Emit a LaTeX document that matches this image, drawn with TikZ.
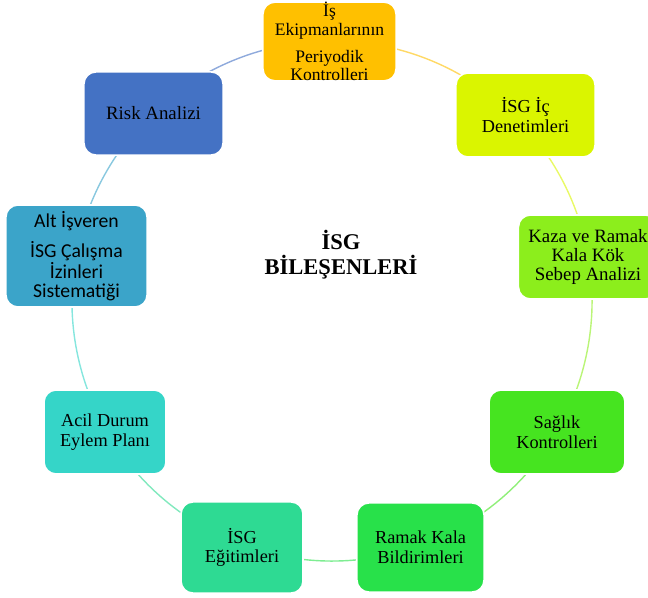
\documentclass[tikz,border=0pt]{standalone}
\usepackage{fontspec}
\setmainfont{Liberation Serif}
\newfontfamily\calibrifont{Carlito}
\usepackage{tikz}
\usetikzlibrary{calc, backgrounds}

\definecolor{cPeriyodik}{HTML}{FFC000}
\definecolor{cDenetim}{HTML}{DAF500}
\definecolor{cKaza}{HTML}{8CEE1C}
\definecolor{cSaglik}{HTML}{46E420}
\definecolor{cRamak}{HTML}{28E14A}
\definecolor{cEgitim}{HTML}{2EDA93}
\definecolor{cAcil}{HTML}{35D5C8}
\definecolor{cAlt}{HTML}{3BA4C9}
\definecolor{cRisk}{HTML}{4472C4}

\begin{document}
\begin{tikzpicture}[
  x=0.025cm, y=0.025cm,
  box/.style={rounded corners=0.3cm, align=center, inner sep=0pt,
              draw=white, line width=1.2pt,
              font=\fontsize{13}{14}\selectfont},
  ttl/.style={align=center, font=\fontsize{16}{17.7}\selectfont\bfseries},
  ring/.style={line width=1pt}]
  \clip (0,0) rectangle (648,597);
  \useasboundingbox (0,0) rectangle (648,597);
  \coordinate (ctr) at (332,296);

  \node[box, fill=cPeriyodik, minimum width=3.33cm, minimum height=1.78cm,
        font=\fontsize{12.5}{13.2}\selectfont] (periyodik) at (329.5,555.5)
    {İş\\Ekipmanlarının\\[6pt]Periyodik\\Kontrolleri};
  \node[box, fill=cDenetim, minimum width=3.48cm, minimum height=2.10cm] (denetim) at (525.5,482)
    {İSG İç\\Denetimleri};
  \node[box, fill=cKaza, minimum width=3.48cm, minimum height=2.10cm,
        font=\fontsize{13.4}{13.6}\selectfont] (kaza) at (588,340)
    {Kaza ve Ramak\\Kala Kök\\Sebep Analizi};
  \node[box, fill=cSaglik, minimum width=3.40cm, minimum height=2.10cm] (saglik) at (557,165)
    {Sağlık\\Kontrolleri};
  \node[box, fill=cRamak, minimum width=3.18cm, minimum height=2.23cm] (ramak) at (420.5,49.5)
    {Ramak Kala\\Bildirimleri};
  \node[box, fill=cEgitim, minimum width=3.05cm, minimum height=2.28cm] (egitim) at (242,49.5)
    {İSG\\Eğitimleri};
  \node[box, fill=cAcil, minimum width=3.05cm, minimum height=2.10cm] (acil) at (105,165)
    {Acil Durum\\Eylem Planı};
  \node[box, fill=cAlt, minimum width=3.53cm, minimum height=2.55cm,
        font=\calibrifont\fontsize{14}{13.3}\selectfont] (altisveren) at (76.5,341)
    {Alt İşveren\\[6.5pt]İSG Çalışma\\İzinleri\\Sistematiği};
  \node[box, fill=cRisk, minimum width=3.48cm, minimum height=2.08cm,
        font=\fontsize{13.4}{14}\selectfont] (risk) at (153.5,483.5)
    {Risk Analizi};

  \node[ttl] (baslik) at (341,342) {İSG\\BİLEŞENLERİ};

  % cycle arcs, coloured after the box they leave
  \begin{scope}[on background layer]
    \foreach \a/\b/\c in {periyodik/denetim/cPeriyodik, denetim/kaza/cDenetim,
        kaza/saglik/cKaza, saglik/ramak/cSaglik, ramak/egitim/cRamak,
        egitim/acil/cEgitim, acil/altisveren/cAcil, altisveren/risk/cAlt,
        risk/periyodik/cRisk}
      \draw[ring, \c!60!white] let \p1=($(\a)-(ctr)$), \p2=($(\b)-(ctr)$),
          \n1={atan2(\y1,\x1)}, \n2={atan2(\y2,\x2)}, \n3={\n2-360*(\n2>\n1)}
        in ($(ctr)+(\n1:6.5cm)$) arc[start angle=\n1, end angle=\n3, radius=6.5cm];
  \end{scope}
\end{tikzpicture}
\end{document}
